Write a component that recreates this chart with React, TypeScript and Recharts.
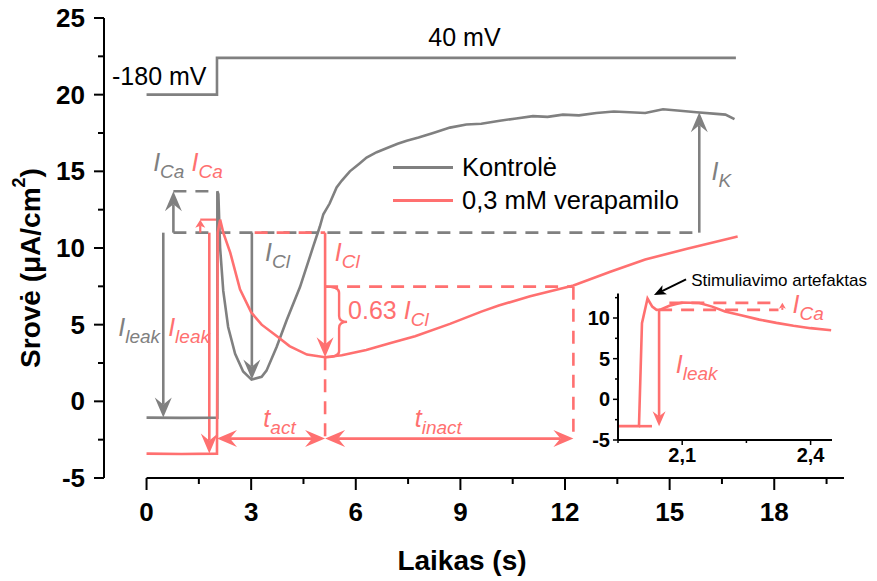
import React from "react";
import { LineChart, Line, XAxis, YAxis, ReferenceLine, ReferenceDot, Legend } from "recharts";

const FONT = '"Liberation Sans", Arial, Helvetica, sans-serif';
const GRAY = "#808080";
const RED = "#FF7070";

const seriesNames = ["Kontrolė", "0,3 mM verapamilo"];

// Kontrolė trace (s, µA/cm²)
const controlTime = [0, 1, 2.03, 2.03, 2.06, 2.11, 2.2, 2.34, 2.54, 2.77, 3.01, 3.3, 3.44, 3.73, 4.02, 4.4, 4.78, 4.97, 5.07, 5.25, 5.45, 5.6, 5.83, 6.1, 6.31, 6.6, 6.88, 7.2, 7.46, 7.8, 8.22, 8.7, 9.17, 9.6, 10.13, 10.6, 11.08, 11.5, 11.94, 12.4, 12.9, 13.4, 13.85, 14.3, 14.81, 15.3, 15.77, 16.34, 16.6, 16.86];
const controlCurrent = [-1.06, -1.08, -1.06, 13.7, 13.5, 10.0, 7.2, 4.85, 3.1, 1.95, 1.42, 1.6, 2.0, 3.55, 5.3, 7.45, 10.1, 11.4, 12.2, 12.9, 13.95, 14.4, 15.0, 15.5, 15.9, 16.25, 16.5, 16.8, 17.0, 17.2, 17.5, 17.85, 18.05, 18.1, 18.3, 18.45, 18.6, 18.55, 18.7, 18.65, 18.8, 18.9, 18.85, 18.8, 19.05, 18.95, 18.85, 18.75, 18.7, 18.4];

// 0,3 mM verapamilo trace
const verapTime = [0, 1, 2.02, 2.04, 2.11, 2.2, 2.4, 2.68, 3.0, 3.3, 3.74, 4.1, 4.6, 5.12, 5.6, 6.3, 7.0, 7.7, 8.7, 9.6, 10.1, 11.0, 12.24, 13.3, 14.3, 15.5, 16.95];
const verapCurrent = [-3.41, -3.43, -3.41, 11.0, 11.85, 11.0, 9.7, 7.3, 5.8, 5.0, 4.24, 3.6, 3.05, 2.88, 3.0, 3.35, 3.8, 4.25, 5.05, 5.85, 6.25, 6.85, 7.55, 8.45, 9.25, 9.95, 10.75];

// voltage protocol, drawn on the current scale
const protocolTime = [0, 2.02, 2.02, 16.9];
const protocolLevel = [20, 20, 22.4, 22.4];

// inset: first 0.5 s after the step
const insetTime = [1.952, 1.999, 2.006, 2.019, 2.03, 2.04, 2.05, 2.07, 2.1, 2.14, 2.17, 2.2, 2.24, 2.28, 2.32, 2.36, 2.4, 2.448];
const insetCurrent = [-3.3, -3.3, 9.35, 12.4, 11.4, 11.0, 11.05, 11.5, 11.9, 11.85, 11.4, 10.8, 10.3, 9.8, 9.4, 9.05, 8.75, 8.5];

const xTicks = [0, 1.5, 3, 4.5, 6, 7.5, 9, 10.5, 12, 13.5, 15, 16.5, 18, 19.5];
const yTicks = [-5, -2.5, 0, 2.5, 5, 7.5, 10, 12.5, 15, 17.5, 20, 22.5, 25];
const insetXTicks = [1.95, 2.1, 2.25, 2.4];
const insetYTicks = [-5, -2.5, 0, 2.5, 5, 7.5, 10, 12.5];

// reading levels used by the annotations
const level = 11;
const grayBase = -1.06;
const redBase = -3.41;
const grayPeak = 13.7;
const redPeak = 11.85;
const grayMin = 1.42;
const redMin = 2.88;
const redRecovery = 7.48;
const grayPlateau = 18.85;
const tLevel = -2.43;
const tStep = 2.02;
const tGrayMin = 3.02;
const tRedMin = 5.12;
const tInact = 12.24;
const tK = 15.85;

const insetBase = -3.3;
const insetLevel = 11.0;
const insetCa = 11.86;
const insetLeakX = 2.046;

const pts = (xs: number[], ys: number[]) => xs.map((x, i) => ({ x, y: ys[i] }));

const controlData = pts(controlTime, controlCurrent);
const verapData = pts(verapTime, verapCurrent);
const protocolData = pts(protocolTime, protocolLevel);
const insetData = pts(insetTime, insetCurrent);

function head(tx: number, ty: number, ux: number, uy: number, L: number, W: number, N: number, color: string) {
  const nx = -uy;
  const ny = ux;
  const bx = tx - ux * L;
  const by = ty - uy * L;
  const p = [
    [tx, ty],
    [bx + nx * W, by + ny * W],
    [tx - ux * (L - N), ty - uy * (L - N)],
    [bx - nx * W, by - ny * W],
  ];
  return <polygon points={p.map((q) => q.join(",")).join(" ")} fill={color} />;
}

type ArrowOpts = { start?: boolean; end?: boolean; L?: number; W?: number; N?: number; dash?: string; sw?: number };

const arrow = (color: string, o: ArrowOpts = {}) => (p: any) => {
  const { x1, y1, x2, y2 } = p;
  const L = o.L ?? 20;
  const W = o.W ?? 8.5;
  const N = o.N ?? 7;
  const len = Math.hypot(x2 - x1, y2 - y1) || 1;
  const ux = (x2 - x1) / len;
  const uy = (y2 - y1) / len;
  const sx = o.start ? x1 + ux * (L - N) : x1;
  const sy = o.start ? y1 + uy * (L - N) : y1;
  const ex = o.end ? x2 - ux * (L - N) : x2;
  const ey = o.end ? y2 - uy * (L - N) : y2;
  return (
    <g>
      <line x1={sx} y1={sy} x2={ex} y2={ey} stroke={color} strokeWidth={o.sw ?? 2.6} strokeDasharray={o.dash} />
      {o.end && head(x2, y2, ux, uy, L, W, N, color)}
      {o.start && head(x1, y1, -ux, -uy, L, W, N, color)}
    </g>
  );
};

const dashed = (color: string) => arrow(color, { dash: "13 9" });

const brace = (color: string) => (p: any) => {
  const { x1, y1, y2 } = p;
  const top = Math.min(y1, y2);
  const bot = Math.max(y1, y2);
  const mid = (top + bot) / 2;
  const v = x1 + 14;
  const tip = x1 + 22;
  const r = 6;
  const d = `M${x1},${top} Q${v},${top} ${v},${top + r} L${v},${mid - r} Q${v},${mid} ${tip},${mid} Q${v},${mid} ${v},${mid + r} L${v},${bot - r} Q${v},${bot} ${x1},${bot}`;
  return <path d={d} fill="none" stroke={color} strokeWidth={2.4} />;
};

const sym = (main: string, sub: string, color: string, size = 25, prefix = "") => (p: any) => (
  <text x={p.cx} y={p.cy} fill={color} fontFamily={FONT} fontSize={size}>
    {prefix}
    <tspan fontStyle="italic">{main}</tspan>
    <tspan fontStyle="italic" fontSize={size * 0.76} dy={size * 0.28}>
      {sub}
    </tspan>
  </text>
);

const plain = (t: string, color: string, size = 25) => (p: any) => (
  <text x={p.cx} y={p.cy} fill={color} fontFamily={FONT} fontSize={size}>
    {t}
  </text>
);

const MainXTick = (p: any) => {
  const v = p.payload.value;
  const major = Math.abs(v % 3) < 1e-6;
  return (
    <g>
      <line x1={p.x} x2={p.x} y1={p.y} y2={p.y + (major ? 12 : 6)} stroke="#000" strokeWidth={2} />
      {major && (
        <text x={p.x} y={p.y + 43} textAnchor="middle" fontSize={26} fontWeight="bold" fontFamily={FONT} fill="#000">
          {v}
        </text>
      )}
    </g>
  );
};

const MainYTick = (p: any) => {
  const v = p.payload.value;
  const major = Math.abs(((v % 5) + 5) % 5) < 1e-6;
  return (
    <g>
      <line x1={p.x} x2={p.x - (major ? 10 : 6)} y1={p.y} y2={p.y} stroke="#000" strokeWidth={2} />
      {major && (
        <text x={p.x - 19} y={p.y} textAnchor="end" dominantBaseline="central" fontSize={26} fontWeight="bold" fontFamily={FONT} fill="#000">
          {v}
        </text>
      )}
    </g>
  );
};

const InsetXTick = (p: any) => {
  const v = p.payload.value;
  const major = Math.abs(v - 2.1) < 1e-6 || Math.abs(v - 2.4) < 1e-6;
  return (
    <g>
      <line x1={p.x} x2={p.x} y1={p.y} y2={p.y + (major ? 5 : 3)} stroke="#000" strokeWidth={1.5} />
      {major && (
        <text x={p.x} y={p.y + 22} textAnchor="middle" fontSize={20} fontWeight="bold" fontFamily={FONT} fill="#000">
          {v.toFixed(1).replace(".", ",")}
        </text>
      )}
    </g>
  );
};

const InsetYTick = (p: any) => {
  const v = p.payload.value;
  const major = Math.abs(((v % 5) + 5) % 5) < 1e-6;
  return (
    <g>
      <line x1={p.x} x2={p.x - (major ? 5 : 3)} y1={p.y} y2={p.y} stroke="#000" strokeWidth={1.5} />
      {major && (
        <text x={p.x - 8} y={p.y} textAnchor="end" dominantBaseline="central" fontSize={20} fontWeight="bold" fontFamily={FONT} fill="#000">
          {v}
        </text>
      )}
    </g>
  );
};

const renderLegend = (props: any) => {
  const items = (props.payload || [])
    .filter((e: any) => seriesNames.includes(e.value))
    .sort((a: any, b: any) => seriesNames.indexOf(a.value) - seriesNames.indexOf(b.value));
  return (
    <div style={{ fontFamily: FONT, fontSize: 25.5, color: "#000" }}>
      {items.map((e: any) => (
        <div key={e.value} style={{ display: "flex", alignItems: "center", height: 33, whiteSpace: "nowrap" }}>
          <span style={{ display: "inline-block", width: 60, height: 3, background: e.color, marginRight: 9 }} />
          {e.value}
        </div>
      ))}
    </div>
  );
};

function Inset() {
  return (
    <div style={{ position: "absolute", left: 560, top: 255 }}>
      <LineChart width={317} height={226} margin={{ top: 38.6, right: 45, bottom: 11, left: 18 }} style={{ fontFamily: FONT }}>
        <XAxis
          dataKey="x"
          type="number"
          domain={[1.95, 2.45]}
          ticks={insetXTicks}
          interval={0}
          tickSize={0}
          tickMargin={0}
          tickLine={false}
          tick={<InsetXTick />}
          axisLine={{ stroke: "#000", strokeWidth: 2 }}
          height={30}
        />
        <YAxis
          type="number"
          domain={[-5, 13]}
          ticks={insetYTicks}
          interval={0}
          tickSize={0}
          tickMargin={0}
          tickLine={false}
          tick={<InsetYTick />}
          axisLine={{ stroke: "#000", strokeWidth: 2 }}
          width={40}
        />
        <Line data={insetData} dataKey="y" stroke={RED} strokeWidth={2.6} dot={false} isAnimationActive={false} type="linear" />
        <ReferenceLine segment={[{ x: 1.999, y: insetBase }, { x: insetLeakX, y: insetBase }]} shape={dashed(RED)} />
        <ReferenceLine segment={[{ x: insetLeakX, y: insetLevel }, { x: 2.325, y: insetLevel }]} shape={dashed(RED)} />
        <ReferenceLine segment={[{ x: 2.07, y: insetCa }, { x: 2.325, y: insetCa }]} shape={dashed(RED)} />
        <ReferenceLine segment={[{ x: insetLeakX, y: insetLevel }, { x: insetLeakX, y: insetBase }]} shape={arrow(RED, { end: true, L: 15, W: 6.5, N: 5 })} />
        <ReferenceLine segment={[{ x: 2.334, y: insetLevel }, { x: 2.334, y: insetCa }]} shape={arrow(RED, { end: true, L: 6, W: 3.5, N: 1.5, sw: 2 })} ifOverflow="visible" />
        <ReferenceLine segment={[{ x: 2.109, y: 14.76 }, { x: 2.034, y: 12.83 }]} shape={arrow("#000", { end: true, L: 12, W: 5, N: 3, sw: 2 })} ifOverflow="visible" />
        <ReferenceDot x={2.121} y={13.93} r={0} ifOverflow="visible" shape={plain("Stimuliavimo artefaktas", "#000", 17)} />
        <ReferenceDot x={2.358} y={10.6} r={0} ifOverflow="visible" shape={sym("I", "Ca", RED, 25)} />
        <ReferenceDot x={2.085} y={3.2} r={0} ifOverflow="visible" shape={sym("I", "leak", RED, 25)} />
      </LineChart>
    </div>
  );
}

export default function App() {
  return (
    <div style={{ position: "relative", width: 877, height: 581, background: "#fff" }}>
      <style>{"body{margin:0}"}</style>
      <LineChart width={877} height={581} margin={{ top: 18, right: 33, bottom: 42, left: 44 }} style={{ fontFamily: FONT }}>
        <XAxis
          dataKey="x"
          type="number"
          domain={[-1.22, 20]}
          ticks={xTicks}
          interval={0}
          tickSize={0}
          tickMargin={0}
          tickLine={false}
          axisLine={false}
          tick={<MainXTick />}
          height={61}
          label={{
            content: (p: any) => (
              <text x={p.viewBox.x + p.viewBox.width / 2 - 12} y={p.viewBox.y + 92} textAnchor="middle" fontSize={28} fontWeight="bold" fontFamily={FONT} fill="#000">
                Laikas (s)
              </text>
            ),
          }}
        />
        <YAxis
          type="number"
          domain={[-5, 25]}
          ticks={yTicks}
          interval={0}
          tickSize={0}
          tickMargin={0}
          tickLine={false}
          tick={<MainYTick />}
          axisLine={{ stroke: "#000", strokeWidth: 2 }}
          width={60}
          label={{
            content: (p: any) => {
              const cx = p.viewBox.x - 14;
              const cy = 268;
              return (
                <text x={cx} y={cy} transform={`rotate(-90, ${cx}, ${cy})`} textAnchor="middle" dominantBaseline="central" fontSize={28} fontWeight="bold" fontFamily={FONT} fill="#000">
                  Srovė (μA/cm
                  <tspan fontSize={18} dy={-11}>2</tspan>
                  <tspan dy={11}>)</tspan>
                </text>
              );
            },
          }}
        />
        <ReferenceLine segment={[{ x: 0, y: -5 }, { x: 20, y: -5 }]} stroke="#000" strokeWidth={2} />
        <Legend layout="horizontal" verticalAlign="middle" align="center" content={renderLegend} wrapperStyle={{ left: 393, top: 151 }} />

        {/* gray annotations */}
        <ReferenceLine segment={[{ x: 0.77, y: grayPeak }, { x: tStep, y: grayPeak }]} shape={dashed(GRAY)} />
        <ReferenceLine segment={[{ x: 0.77, y: level }, { x: tK, y: level }]} shape={dashed(GRAY)} />
        <ReferenceLine segment={[{ x: 0.77, y: level }, { x: 0.77, y: grayPeak }]} shape={arrow(GRAY, { end: true })} />
        <ReferenceLine segment={[{ x: 0.48, y: level }, { x: 0.48, y: grayBase }]} shape={arrow(GRAY, { end: true })} />
        <ReferenceLine segment={[{ x: tGrayMin, y: level }, { x: tGrayMin, y: grayMin }]} shape={arrow(GRAY, { end: true })} />
        <ReferenceLine segment={[{ x: tK, y: level }, { x: tK, y: grayPlateau }]} shape={arrow(GRAY, { end: true })} />

        {/* red annotations */}
        <ReferenceLine segment={[{ x: 3.1, y: level }, { x: tRedMin, y: level }]} shape={dashed(RED)} />
        <ReferenceLine segment={[{ x: 1.54, y: redPeak }, { x: tStep, y: redPeak }]} shape={arrow(RED, { sw: 2.2 })} />
        <ReferenceLine segment={[{ x: 1.54, y: level }, { x: 1.54, y: redPeak }]} shape={arrow(RED, { end: true, L: 8, W: 5, N: 2, sw: 2.2 })} />
        <ReferenceLine segment={[{ x: 1.8, y: level }, { x: 1.8, y: redBase }]} shape={arrow(RED, { end: true })} />
        <ReferenceLine segment={[{ x: tRedMin, y: level }, { x: tRedMin, y: redMin }]} shape={arrow(RED, { end: true })} />
        <ReferenceLine segment={[{ x: tRedMin, y: redMin }, { x: tRedMin, y: tLevel }]} shape={dashed(RED)} />
        <ReferenceLine segment={[{ x: tRedMin, y: redRecovery }, { x: tInact, y: redRecovery }]} shape={dashed(RED)} />
        <ReferenceLine segment={[{ x: tInact, y: redRecovery }, { x: tInact, y: tLevel }]} shape={dashed(RED)} />
        <ReferenceLine segment={[{ x: tRedMin, y: redRecovery }, { x: tRedMin, y: redMin }]} shape={brace(RED)} />
        <ReferenceLine segment={[{ x: tStep, y: tLevel }, { x: tRedMin, y: tLevel }]} shape={arrow(RED, { start: true, end: true })} />
        <ReferenceLine segment={[{ x: tRedMin, y: tLevel }, { x: tInact, y: tLevel }]} shape={arrow(RED, { start: true, end: true })} />

        <Line data={protocolData} dataKey="y" stroke={GRAY} strokeWidth={2.6} dot={false} isAnimationActive={false} type="linear" legendType="none" name="protocol" />
        <Line data={controlData} dataKey="y" name={seriesNames[0]} stroke={GRAY} strokeWidth={2.6} dot={false} isAnimationActive={false} type="linear" />
        <Line data={verapData} dataKey="y" name={seriesNames[1]} stroke={RED} strokeWidth={2.6} dot={false} isAnimationActive={false} type="linear" />

        {/* labels */}
        <ReferenceDot x={-0.99} y={20.66} r={0} shape={plain("-180 mV", "#000")} />
        <ReferenceDot x={8.08} y={23.16} r={0} shape={plain("40 mV", "#000")} />
        <ReferenceDot x={0.19} y={15.0} r={0} shape={sym("I", "Ca", GRAY)} />
        <ReferenceDot x={1.29} y={15.0} r={0} shape={sym("I", "Ca", RED)} />
        <ReferenceDot x={3.4} y={9.13} r={0} shape={sym("I", "Cl", GRAY)} />
        <ReferenceDot x={5.4} y={9.13} r={0} shape={sym("I", "Cl", RED)} />
        <ReferenceDot x={5.78} y={5.4} r={0} shape={sym("I", "Cl", RED, 25, "0.63 ")} />
        <ReferenceDot x={-0.81} y={4.24} r={0} shape={sym("I", "leak", GRAY)} />
        <ReferenceDot x={0.62} y={4.24} r={0} shape={sym("I", "leak", RED)} />
        <ReferenceDot x={16.2} y={14.46} r={0} shape={sym("I", "K", GRAY)} />
        <ReferenceDot x={3.35} y={-1.68} r={0} shape={sym("t", "act", RED)} />
        <ReferenceDot x={7.69} y={-1.68} r={0} shape={sym("t", "inact", RED)} />
      </LineChart>
      <Inset />
    </div>
  );
}
